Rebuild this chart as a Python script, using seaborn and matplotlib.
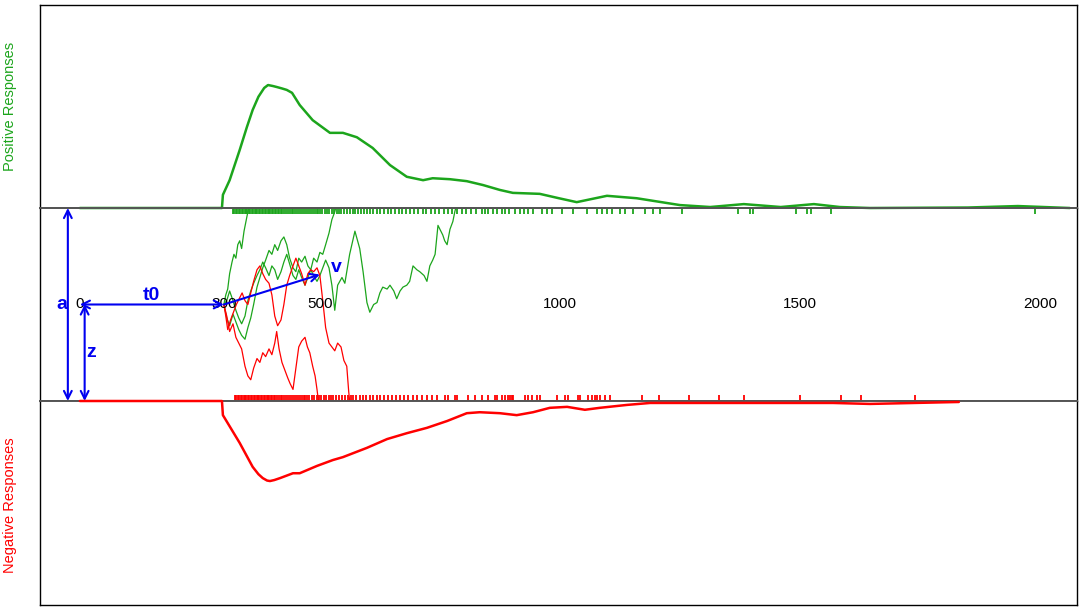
# Illustration du modèle de diffusion (DDM) : densités, essais et paramètres

import matplotlib
matplotlib.use("Agg")
import matplotlib.pyplot as plt
import seaborn as sns

# Densité des réponses positives (temps en ms, densité x1000)
pos_t = [0, 296, 298, 312, 333, 348, 360, 372, 384, 392, 402, 410, 421, 431, 442,
         458, 485, 521, 548, 577, 610, 646, 681, 715, 735, 771, 806, 840, 875, 902,
         958, 998, 1035, 1098, 1160, 1250, 1313, 1383, 1460, 1529, 1583, 1646, 1850,
         1954, 2062]
pos_d = [0, 0, 0.27, 0.57, 1.19, 1.66, 2.01, 2.28, 2.46, 2.52, 2.50, 2.48, 2.45,
         2.42, 2.36, 2.11, 1.80, 1.54, 1.54, 1.45, 1.23, 0.88, 0.64, 0.57, 0.61,
         0.59, 0.55, 0.47, 0.37, 0.31, 0.29, 0.20, 0.12, 0.25, 0.20, 0.06, 0.02,
         0.08, 0.02, 0.08, 0.02, 0.0, 0.01, 0.04, 0.0]

# Densité des réponses négatives
neg_t = [0, 296, 298, 333, 360, 372, 381, 390, 396, 405, 417, 444, 458, 494, 527,
         548, 598, 640, 681, 723, 765, 806, 833, 875, 910, 944, 979, 1015, 1052,
         1083, 1140, 1188, 1292, 1569, 1646, 1831]
neg_d = [0, 0, 0.29, 0.86, 1.35, 1.50, 1.58, 1.63, 1.64, 1.62, 1.58, 1.48, 1.48,
         1.33, 1.21, 1.15, 0.96, 0.78, 0.66, 0.55, 0.41, 0.25, 0.23, 0.25, 0.29,
         0.23, 0.14, 0.12, 0.18, 0.14, 0.08, 0.04, 0.04, 0.04, 0.06, 0.02]

# Temps de réponse observés (rug)
pos_rt = [319, 322, 325, 328, 331, 334, 337, 340, 343, 346, 349, 352, 355, 358, 361,
          364, 367, 370, 373, 376, 379, 382, 385, 388, 391, 394, 397, 400, 403, 406,
          409, 412, 415, 418, 421, 425, 429, 433, 437, 441, 445, 449, 453, 457, 461,
          465, 469, 473, 477, 481, 485, 489, 493, 497, 501, 505, 510, 515, 520, 525,
          530, 535, 540, 545, 550, 556, 562, 568, 574, 580, 586, 592, 598, 604, 610,
          618, 626, 633, 641, 649, 656, 664, 672, 680, 688, 697, 705, 714, 722, 731,
          740, 749, 758, 767, 776, 786, 795, 805, 815, 826, 837, 844, 850, 860, 869,
          879, 885, 894, 906, 917, 925, 933, 944, 962, 973, 983, 1004, 1027, 1056,
          1077, 1087, 1098, 1108, 1125, 1135, 1152, 1177, 1194, 1208, 1254, 1371,
          1396, 1402, 1492, 1515, 1523, 1565, 1990]
neg_rt = [323, 326, 329, 332, 335, 338, 341, 344, 347, 350, 353, 356, 359, 362, 365,
          368, 371, 374, 377, 380, 383, 386, 389, 392, 395, 398, 401, 404, 407, 410,
          414, 418, 422, 426, 430, 434, 438, 442, 446, 450, 454, 458, 462, 466, 470,
          474, 478, 483, 488, 493, 498, 503, 508, 513, 518, 523, 528, 534, 540, 546,
          552, 558, 564, 570, 576, 583, 590, 597, 604, 611, 618, 626, 634, 642, 650,
          658, 666, 675, 684, 693, 703, 713, 723, 733, 744, 760, 767, 781, 785, 808,
          823, 838, 850, 865, 869, 879, 885, 892, 896, 900, 902, 927, 933, 942, 952,
          958, 994, 1010, 1017, 1038, 1042, 1058, 1067, 1073, 1077, 1083, 1094, 1104,
          1171, 1206, 1269, 1331, 1383, 1500, 1585, 1627, 1740]

# Trajectoires d'accumulation (temps en ms, évidence entre 0 et a = 1)
g1_t = [300, 304, 308, 312, 317, 321, 325, 329, 333, 337, 342, 346, 350, 352]
g1_v = [.50, .55, .58, .66, .72, .76, .74, .81, .83, .79, .88, .93, .98, 1.0]

g2_t = [300, 306, 312, 319, 325, 331, 337, 344, 350, 356, 362, 369, 375, 381, 387,
        394, 400, 406, 412, 419, 425, 431, 437, 444, 450, 456, 462, 469, 475, 481,
        487, 494, 500, 506, 512, 519, 525, 531, 533]
g2_v = [.50, .43, .39, .45, .41, .37, .34, .32, .38, .43, .50, .59, .64, .69, .73,
        .78, .76, .81, .78, .83, .85, .81, .74, .69, .67, .74, .72, .75, .70, .68,
        .74, .72, .77, .76, .81, .87, .94, .98, 1.0]

g3_t = [300, 306, 312, 319, 325, 331, 337, 344, 350, 356, 362, 369, 375, 381, 387,
        394, 400, 406, 412, 419, 425, 431, 437, 444, 450, 456, 462, 469, 475, 481,
        487, 494, 500, 506, 512, 519, 525, 531, 537, 546, 552, 562, 573, 583, 590,
        598, 604, 612, 619, 625, 631, 640, 646, 654, 660, 667, 673, 681, 687, 694,
        702, 708, 717, 723, 729, 735, 740, 746, 752, 756, 760, 765, 771, 777, 781, 783]
g3_v = [.50, .52, .57, .52, .47, .43, .40, .44, .52, .57, .61, .65, .68, .72, .69,
        .65, .70, .68, .63, .67, .72, .76, .71, .65, .63, .68, .64, .60, .64, .68,
        .65, .62, .65, .69, .73, .69, .60, .47, .60, .64, .61, .76, .88, .79, .67,
        .51, .46, .50, .51, .56, .59, .58, .60, .57, .53, .57, .59, .60, .62, .70,
        .68, .67, .65, .62, .70, .73, .76, .91, .88, .86, .83, .81, .89, .93, .98, 1.0]

r1_t = [300, 306, 312, 319, 325, 331, 337, 344, 350, 356, 362, 369, 375, 381, 387,
        394, 400, 406, 410, 415, 421, 427, 433, 438, 444, 450, 456, 462, 469, 474,
        479, 485, 490, 494, 497]
r1_v = [.50, .44, .36, .40, .33, .30, .27, .18, .13, .11, .17, .22, .20, .25, .23,
        .27, .24, .30, .36, .27, .20, .16, .12, .09, .06, .17, .28, .31, .33, .28,
        .25, .18, .13, .06, 0.0]

r2_t = [300, 304, 308, 314, 320, 326, 332, 338, 344, 350, 356, 362, 369, 375, 381,
        387, 394, 400, 406, 412, 419, 425, 431, 437, 444, 450, 456, 462, 469, 475,
        481, 487, 494, 500, 506, 512, 519, 525, 531, 537, 544, 550, 556, 560, 562]
r2_v = [.50, .44, .37, .42, .46, .50, .53, .56, .52, .50, .56, .62, .68, .70, .66,
        .63, .61, .55, .44, .39, .42, .50, .60, .65, .70, .74, .70, .66, .60, .66,
        .68, .67, .69, .65, .52, .38, .30, .28, .26, .30, .28, .21, .18, .05, 0.0]

ticks = [0, 300, 500, 1000, 1500, 2000]

vert = "#1ca51c"
rouge = "#ff0000"
bleu = "#0000f0"

sns.set_style("white")
plt.rcParams["font.family"] = ["Liberation Sans", "DejaVu Sans"]

fig = plt.figure(figsize=(10.84, 6.11), dpi=100)
left, width = 0.0369, 0.9566
ax_top = fig.add_axes([left, 0.65957, width, 0.33224])
ax_mid = fig.add_axes([left, 0.34370, width, 0.31588])
ax_bot = fig.add_axes([left, 0.00982, width, 0.33388])

# Densités
sns.lineplot(x=pos_t, y=pos_d, ax=ax_top, color=vert, linewidth=1.8,
             estimator=None, clip_on=False, zorder=3)
sns.lineplot(x=neg_t, y=[-d for d in neg_d], ax=ax_bot, color=rouge,
             linewidth=1.8, estimator=None, clip_on=False, zorder=3)

# Trajectoires
for t, v in [(g1_t, g1_v), (g2_t, g2_v), (g3_t, g3_v)]:
    sns.lineplot(x=t, y=v, ax=ax_mid, color=vert, linewidth=0.9, estimator=None, sort=False)
for t, v in [(r1_t, r1_v), (r2_t, r2_v)]:
    sns.lineplot(x=t, y=v, ax=ax_mid, color=rouge, linewidth=0.9, estimator=None, sort=False)

# Rugs
sns.rugplot(x=neg_rt, ax=ax_mid, height=0.032, color=rouge, linewidth=1.3)
ax_mid.vlines(pos_rt, 0.968, 1.0, color=vert, linewidth=1.3)

for ax in [ax_top, ax_mid, ax_bot]:
    ax.set_xlim(-83, 2077)
    ax.set_xticks([])
    ax.set_yticks([])
    for s in ax.spines.values():
        s.set_color("black")
        s.set_linewidth(1)
ax_top.set_ylim(0, 4.16)
ax_mid.set_ylim(0, 1)
ax_bot.set_ylim(-4.18, 0)
ax_mid.patch.set_alpha(0)
for s in [ax_top.spines["bottom"], ax_mid.spines["top"],
          ax_mid.spines["bottom"], ax_bot.spines["top"]]:
    s.set_color("#555555")
    s.set_linewidth(1.4)

# Axe du temps au milieu
for t in ticks:
    ax_mid.text(t, 0.5, str(t), ha="center", va="center", fontsize=11, color="black")

# Paramètres du modèle
fleche = dict(color=bleu, lw=1.5, shrinkA=0, shrinkB=0, mutation_scale=14)
ax_mid.annotate("", xy=(-25, 1), xytext=(-25, 0), arrowprops=dict(arrowstyle="<->", **fleche))
ax_mid.annotate("", xy=(10, 0.5), xytext=(10, 0), arrowprops=dict(arrowstyle="<->", **fleche))
ax_mid.annotate("", xy=(300, 0.5), xytext=(0, 0.5), arrowprops=dict(arrowstyle="<->", **fleche))
ax_mid.annotate("", xy=(500, 0.655), xytext=(300, 0.5), arrowprops=dict(arrowstyle="->", **fleche))

ax_mid.text(-37, 0.5, "a", color=bleu, fontsize=14, fontweight="bold", ha="center", va="center")
ax_mid.text(23, 0.25, "z", color=bleu, fontsize=14, fontweight="bold", ha="center", va="center")
ax_mid.text(148, 0.545, "t0", color=bleu, fontsize=14, fontweight="bold", ha="center", va="center")
ax_mid.text(535, 0.69, "v", color=bleu, fontsize=14, fontweight="bold", ha="center", va="center")

fig.text(0.0092, 0.8265, "Positive Responses", rotation=90, color=vert,
         fontsize=10.5, ha="center", va="center")
fig.text(0.0092, 0.1735, "Negative Responses", rotation=90, color=rouge,
         fontsize=10.5, ha="center", va="center")

fig.savefig("out.png", dpi=100)
